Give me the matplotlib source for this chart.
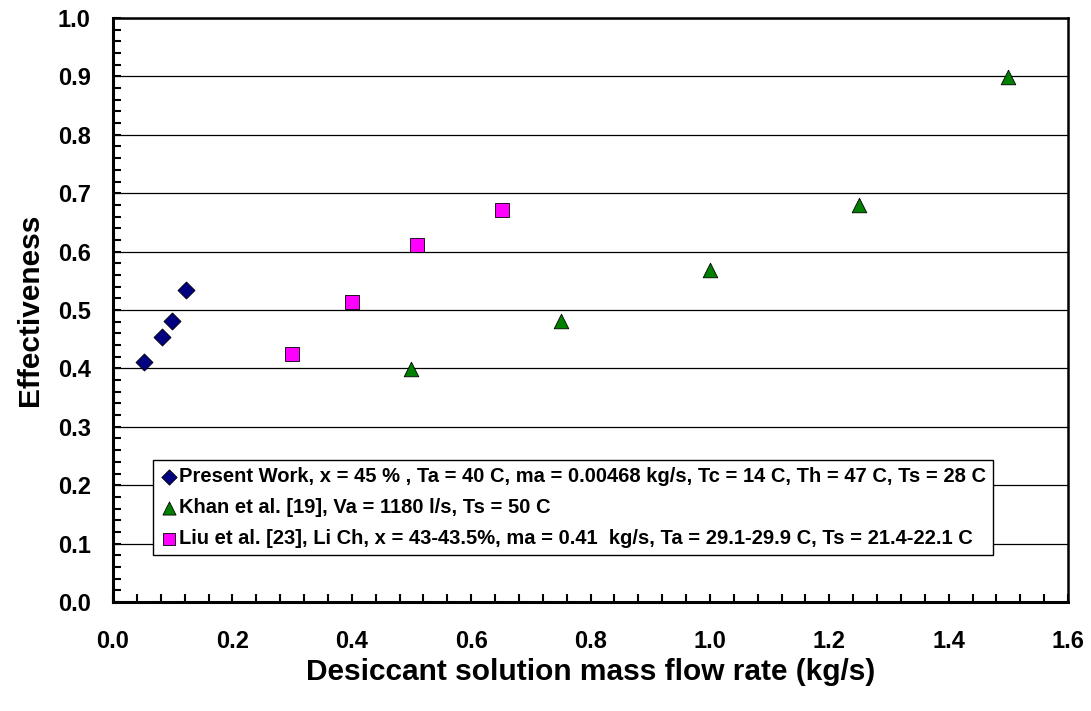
import matplotlib
matplotlib.use('Agg')
import matplotlib.pyplot as plt
from matplotlib.ticker import MultipleLocator

plt.rcParams['font.family'] = ['Liberation Sans', 'DejaVu Sans']
plt.rcParams['font.weight'] = 'bold'

# data
present_x = [0.052, 0.082, 0.099, 0.122]
present_y = [0.411, 0.454, 0.481, 0.534]

khan_x = [0.50, 0.75, 1.00, 1.25, 1.50]
khan_y = [0.399, 0.481, 0.568, 0.680, 0.899]

liu_x = [0.30, 0.40, 0.509, 0.652]
liu_y = [0.424, 0.514, 0.611, 0.671]

labels = ['Present Work, x = 45 % , Ta = 40 C, ma = 0.00468 kg/s, Tc = 14 C, Th = 47 C, Ts = 28 C',
          'Khan et al. [19], Va = 1180 l/s, Ts = 50 C',
          'Liu et al. [23], Li Ch, x = 43-43.5%, ma = 0.41  kg/s, Ta = 29.1-29.9 C, Ts = 21.4-22.1 C']

fig = plt.figure(figsize=(10.91, 7.11), dpi=100)
ax = fig.add_axes([0.1036, 0.1533, 0.8754, 0.8214])

ax.scatter(present_x, present_y, marker='D', s=75, color='#000080', edgecolors='black', linewidths=0.6, label=labels[0], zorder=3)
ax.scatter(khan_x, khan_y, marker='^', s=110, color='#008000', edgecolors='black', linewidths=0.6, label=labels[1], zorder=3)
ax.scatter(liu_x, liu_y, marker='s', s=100, color='#FF00FF', edgecolors='black', linewidths=0.6, label=labels[2], zorder=3)

ax.set_xlim(0, 1.6)
ax.set_ylim(0, 1.0)
ax.xaxis.set_major_locator(MultipleLocator(0.2))
ax.xaxis.set_minor_locator(MultipleLocator(0.04))
ax.yaxis.set_major_locator(MultipleLocator(0.1))
ax.yaxis.set_minor_locator(MultipleLocator(0.02))
ax.xaxis.set_major_formatter(plt.FormatStrFormatter('%.1f'))
ax.yaxis.set_major_formatter(plt.FormatStrFormatter('%.1f'))

ax.grid(True, axis='y', which='major', color='black', linewidth=0.9)
ax.set_axisbelow(True)

ax.tick_params(which='both', direction='in', width=1.5, labelsize=17, color='black')
ax.tick_params(which='both', length=6)
ax.tick_params(axis='x', pad=20)
ax.tick_params(axis='y', pad=16)
for lab in ax.get_xticklabels() + ax.get_yticklabels():
    lab.set_fontweight('bold')

for side in ['left', 'bottom']:
    ax.spines[side].set_linewidth(2.2)
for side in ['top', 'right']:
    ax.spines[side].set_linewidth(1.8)

ax.set_xlabel('Desiccant solution mass flow rate (kg/s)', fontsize=21.5, fontweight='bold', labelpad=4)
ax.set_ylabel('Effectiveness', fontsize=21.5, fontweight='bold', labelpad=10)

leg = ax.legend(loc='lower left', bbox_to_anchor=(0.042, 0.08),
                prop={'weight': 'bold', 'size': 14.5}, fancybox=False, framealpha=1,
                edgecolor='black', handletextpad=0.05, handlelength=0.9, borderpad=0.35,
                labelspacing=0.6, borderaxespad=0, markerscale=0.9)
leg.get_frame().set_linewidth(1.0)

fig.savefig('out.png', dpi=100)
